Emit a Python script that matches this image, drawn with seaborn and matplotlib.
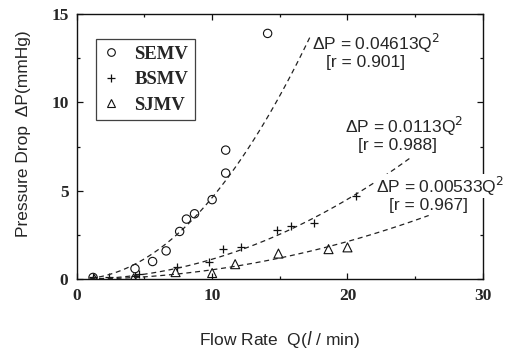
import numpy as np
import pandas as pd
import matplotlib
matplotlib.use("Agg")
import matplotlib.pyplot as plt
import seaborn as sns
from matplotlib.lines import Line2D

semv_q = [1.2, 4.3, 5.6, 6.6, 7.6, 8.1, 8.7, 10.0, 11.0, 11.0, 14.1]
semv_dp = [0.1, 0.6, 1.0, 1.6, 2.7, 3.4, 3.7, 4.5, 6.0, 7.3, 13.9]

bsmv_q = [1.2, 2.4, 4.3, 4.6, 7.4, 9.8, 10.8, 12.1, 14.8, 15.8, 17.5, 20.6]
bsmv_dp = [0.1, 0.1, 0.2, 0.3, 0.7, 1.0, 1.7, 1.8, 2.8, 3.0, 3.2, 4.7]

sjmv_q = [1.3, 4.2, 7.3, 10.0, 11.7, 14.9, 18.6, 20.0]
sjmv_dp = [0.0, 0.05, 0.4, 0.35, 0.85, 1.45, 1.7, 1.8]

# --- fitted curves dP = k*Q^2 ---
fit_k = [0.04613, 0.0113, 0.00533]
fit_r = [0.901, 0.988, 0.967]
fit_qmax = [17.3, 24.7, 26.0]
fit_label_pos = [(17.4, 13.35), (19.8, 8.65), (22.1, 5.25)]

sns.set_style("ticks")
plt.rcParams["font.family"] = ["Liberation Sans", "DejaVu Sans"]

fig = plt.figure(figsize=(5.12, 3.49), dpi=100)
ax = fig.add_axes([0.150, 0.200, 0.793, 0.760])

for k, qmax in zip(fit_k, fit_qmax):
    q = np.linspace(1.0, qmax, 60)
    sns.lineplot(x=q, y=k * q ** 2, ax=ax, color="#222222", lw=0.9,
                 linestyle=(0, (4, 3)), legend=False)

ink = "#111111"
sns.scatterplot(x=semv_q, y=semv_dp, marker="o", s=36, facecolor="none",
                edgecolor=ink, linewidth=0.8, ax=ax)
sns.scatterplot(x=bsmv_q, y=bsmv_dp, marker="+", s=36, color=ink,
                linewidth=0.9, ax=ax)
sns.scatterplot(x=sjmv_q, y=sjmv_dp, marker="^", s=42, facecolor="none",
                edgecolor=ink, linewidth=0.8, ax=ax)

for k, r, (tx, ty) in zip(fit_k, fit_r, fit_label_pos):
    ax.text(tx, ty, f"ΔP = {k:g}Q$^2$", fontsize=12.5, va="center", ha="left",
            clip_on=False, zorder=5,
            bbox=dict(fc="white", ec="none", pad=0.2))
    ax.text(tx + 1.0, ty - 1.1, f"[r = {r:.3f}]", fontsize=12.5,
            va="center", ha="left", zorder=5)

# legend
handles = [
    Line2D([], [], ls="none", marker="o", mfc="none", mec=ink, ms=5.5, mew=0.8),
    Line2D([], [], ls="none", marker="+", color=ink, ms=6, mew=0.9),
    Line2D([], [], ls="none", marker="^", mfc="none", mec=ink, ms=6, mew=0.8),
]
leg = ax.legend(handles, ["SEMV", "BSMV", "SJMV"], loc="upper left",
                bbox_to_anchor=(0.047, 0.906), frameon=True, fancybox=False,
                edgecolor=ink, handlelength=0.9, handletextpad=0.8,
                borderpad=0.35, labelspacing=0.45, borderaxespad=0,
                prop={"family": "Liberation Serif", "weight": "bold", "size": 13.5})
leg.get_frame().set_linewidth(0.9)

ax.set_xlim(0, 30)
ax.set_ylim(0, 15)
ax.set_xticks([0, 10, 20, 30])
ax.set_yticks([0, 5, 10, 15])
ax.set_xticks([5, 15, 25], minor=True)
ax.set_yticks([2.5, 7.5, 12.5], minor=True)
ax.tick_params(which="both", direction="in", top=True, right=True,
               width=0.9, color=ink)
ax.tick_params(which="major", length=4, pad=6)
ax.tick_params(which="minor", length=2.5)
for lab in ax.get_xticklabels() + ax.get_yticklabels():
    lab.set_family("Liberation Serif")
    lab.set_weight("bold")
    lab.set_fontsize(12.5)
for sp in ax.spines.values():
    sp.set_visible(True)
    sp.set_linewidth(1.0)
    sp.set_color(ink)

ax.set_xlabel(r"Flow Rate  Q($\it{l}$ / min)", fontsize=12.5, labelpad=18)
ax.set_ylabel("Pressure Drop  ΔP(mmHg)", fontsize=12.5)
ax.yaxis.set_label_coords(-0.113, 0.55)

fig.savefig("out.png", dpi=100)
